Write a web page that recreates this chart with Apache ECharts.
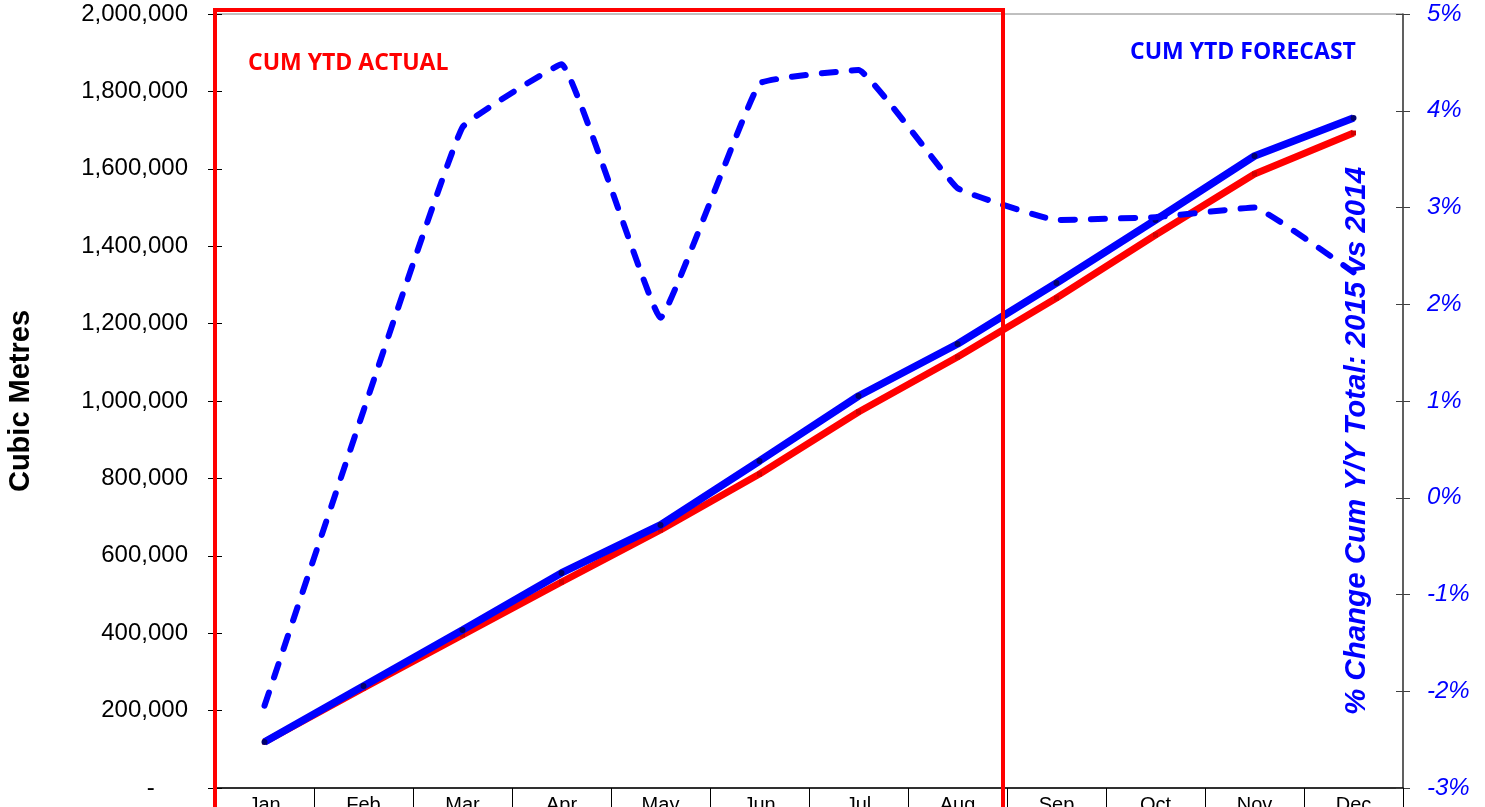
<!DOCTYPE html>
<html>
<head>
<meta charset="utf-8">
<script src="https://cdn.jsdelivr.net/npm/echarts@6/dist/echarts.min.js"></script>
<style>
  html, body { margin: 0; padding: 0; background: #ffffff; }
  #chart { width: 1485px; height: 807px; }
</style>
</head>
<body>
<div id="chart"></div>
<script>
// Months along the category axis
const months = ['Jan', 'Feb', 'Mar', 'Apr', 'May', 'Jun', 'Jul', 'Aug', 'Sep', 'Oct', 'Nov', 'Dec'];

// Cumulative year-to-date volumes, cubic metres
const cumYtdActual   = [118900, 258400, 395400, 532300, 666700, 811400, 971600, 1113700, 1266200, 1429000, 1586600, 1692500];
const cumYtdForecast = [118900, 263600, 408300, 555600, 679600, 845000, 1012900, 1147300, 1304900, 1467700, 1633100, 1731300];

// % change of cumulative total, 2015 vs 2014
const pctChangeCum = [-2.15, 0.9, 3.83, 4.48, 1.86, 4.28, 4.42, 3.2, 2.87, 2.9, 3.0, 2.33];

// Axis ranges and steps
const volumeMin = 0, volumeMax = 2000000, volumeStep = 200000;
const pctMin = -3, pctMax = 5, pctStep = 1;

const chart = echarts.init(document.getElementById('chart'), null, { renderer: 'canvas' });

const fontArial = '"Liberation Sans", Arial, sans-serif';
const fontCal = '"Open Sans", "Noto Sans", sans-serif';

function fmtVolume(v) {
  if (v === 0) return '-     ';
  return v.toLocaleString('en-US');
}

const option = {
  backgroundColor: '#ffffff',
  animation: false,
  grid: {
    left: 215, right: 82, top: 14, bottom: 19,
    outerBoundsMode: 'none',
    containLabel: false,
    show: true, borderColor: '#808080', borderWidth: 1, backgroundColor: 'transparent'
  },
  xAxis: {
    type: 'category',
    data: months,
    boundaryGap: true,
    axisLine: { show: true, lineStyle: { color: '#000000', width: 1.5 } },
    axisTick: { show: true, length: 22, alignWithLabel: false, lineStyle: { color: '#000000', width: 1 } },
    axisLabel: { color: '#000000', fontFamily: fontArial, fontSize: 20, margin: 7 },
    splitLine: { show: false }
  },
  yAxis: [
    {
      type: 'value', position: 'left',
      min: volumeMin, max: volumeMax, interval: volumeStep,
      name: 'Cubic Metres', nameLocation: 'middle', nameRotate: 90, nameGap: 180,
      nameTextStyle: { color: '#000000', fontFamily: fontArial, fontSize: 29, fontWeight: 'bold' },
      axisLine: { show: true, lineStyle: { color: '#000000', width: 1 } },
      axisTick: { show: true, length: 7, lineStyle: { color: '#000000' } },
      axisLabel: { color: '#000000', fontFamily: fontArial, fontSize: 24, margin: 27, formatter: fmtVolume },
      splitLine: { show: false }
    },
    {
      type: 'value', position: 'right',
      min: pctMin, max: pctMax, interval: pctStep,
      axisLine: { show: true, lineStyle: { color: '#404040', width: 1.5 } },
      axisTick: { show: true, length: 7, lineStyle: { color: '#404040' } },
      axisLabel: { color: '#0000ff', fontFamily: fontArial, fontSize: 24, fontStyle: 'italic', margin: 24,
                   formatter: v => v + '%' },
      splitLine: { show: false }
    },
    {
      // inner half of the crossing ticks on the volume axis
      type: 'value', position: 'left',
      min: volumeMin, max: volumeMax, interval: volumeStep,
      axisLine: { show: false },
      axisTick: { show: true, inside: true, length: 7, lineStyle: { color: '#000000' } },
      axisLabel: { show: false },
      splitLine: { show: false }
    },
    {
      // inner half of the crossing ticks on the percentage axis
      type: 'value', position: 'right',
      min: pctMin, max: pctMax, interval: pctStep,
      axisLine: { show: false },
      axisTick: { show: true, inside: true, length: 7, lineStyle: { color: '#404040' } },
      axisLabel: { show: false },
      splitLine: { show: false }
    }
  ],
  series: [
    {
      name: 'CUM YTD ACTUAL',
      type: 'line',
      yAxisIndex: 0,
      data: cumYtdActual,
      z: 3,
      symbol: 'rect', symbolSize: 5,
      itemStyle: { color: '#d00000' },
      lineStyle: { color: '#ff0000', width: 7 }
    },
    {
      name: 'CUM YTD FORECAST',
      type: 'line',
      yAxisIndex: 0,
      data: cumYtdForecast,
      z: 4,
      symbol: 'circle', symbolSize: 6,
      itemStyle: { color: '#00006e' },
      lineStyle: { color: '#0000ff', width: 7.5 }
    },
    {
      name: '% Change Cum Y/Y',
      type: 'line',
      yAxisIndex: 1,
      data: pctChangeCum,
      z: 5,
      smooth: 0.08,
      symbol: 'none',
      lineStyle: { color: '#0000ff', width: 6, type: [14, 16], cap: 'round' }
    }
  ],
  graphic: [
    {
      type: 'rect',
      z: 100,
      shape: { x: 215, y: 10, width: 788, height: 820 },
      style: { fill: 'none', stroke: '#ff0000', lineWidth: 4 }
    },
    {
      type: 'text', z: 100, left: 248, top: 52,
      style: { text: 'CUM YTD ACTUAL', fill: '#ff0000', font: 'bold 23px ' + fontCal }
    },
    {
      type: 'text', z: 100, left: 1130, top: 41,
      style: { text: 'CUM YTD FORECAST', fill: '#0000ff', font: 'bold 23px ' + fontCal }
    },
    {
      type: 'text', z: 100,
      x: 1357, y: 441, rotation: Math.PI / 2,
      style: {
        text: '% Change Cum Y/Y Total: 2015 vs 2014',
        fill: '#0000ff', font: 'italic bold 29.5px ' + fontArial,
        align: 'center', verticalAlign: 'middle'
      }
    }
  ]
};

chart.setOption(option);
</script>
</body>
</html>
